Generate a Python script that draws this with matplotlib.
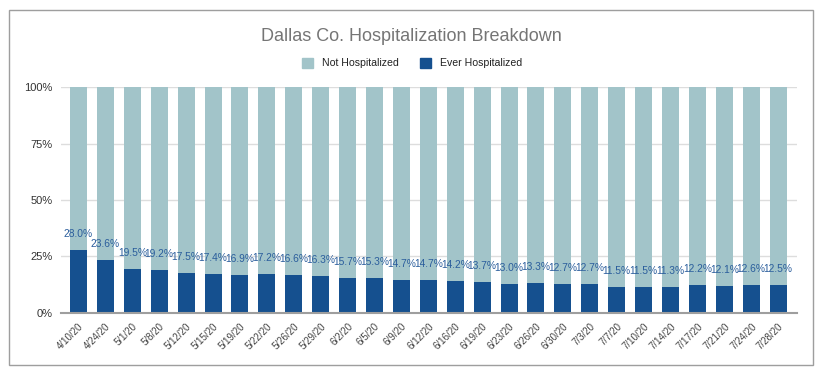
import numpy as np
import matplotlib
matplotlib.use('Agg')
import matplotlib.pyplot as plt
from matplotlib.patches import Rectangle, Patch

dates = ['4/10/20', '4/24/20', '5/1/20', '5/8/20', '5/12/20', '5/15/20', '5/19/20',
         '5/22/20', '5/26/20', '5/29/20', '6/2/20', '6/5/20', '6/9/20', '6/12/20',
         '6/16/20', '6/19/20', '6/23/20', '6/26/20', '6/30/20', '7/3/20', '7/7/20',
         '7/10/20', '7/14/20', '7/17/20', '7/21/20', '7/24/20', '7/28/20']
ever_hosp = [28.0, 23.6, 19.5, 19.2, 17.5, 17.4, 16.9, 17.2, 16.6, 16.3, 15.7, 15.3,
             14.7, 14.7, 14.2, 13.7, 13.0, 13.3, 12.7, 12.7, 11.5, 11.5, 11.3, 12.2,
             12.1, 12.6, 12.5]
not_hosp = [100 - v for v in ever_hosp]
yticks = [0, 25, 50, 75, 100]

light = '#a2c4c9'
dark = '#15508f'

plt.rcParams['font.family'] = ['Liberation Sans', 'DejaVu Sans']

fig = plt.figure(figsize=(8.22, 3.76), dpi=100)
ax = fig.add_axes([0.0742, 0.1676, 0.8954, 0.601])

x = np.arange(len(dates))
ax.bar(x, ever_hosp, width=0.63, color=dark, zorder=3)
ax.bar(x, not_hosp, width=0.63, bottom=ever_hosp, color=light, zorder=3)

# value labels sit a fixed distance above the dark segment
for xi, v in zip(x, ever_hosp):
    ax.annotate(f'{v:.1f}%', (xi, v), xytext=(0, 16), textcoords='offset pixels',
                ha='center', va='center', fontsize=7.4, color='#2a5d9c', zorder=4)

ax.set_xlim(-0.65, 26.7)
ax.set_ylim(0, 100)
ax.set_yticks(yticks)
ax.set_yticklabels([f'{t}%' for t in yticks], fontsize=8, color='#333333')
ax.set_xticks(x)
ax.set_xticklabels(dates, rotation=45, ha='right', rotation_mode='anchor',
                   fontsize=7, color='#444444')
ax.tick_params(axis='both', length=0)
ax.tick_params(axis='y', pad=6)
ax.tick_params(axis='x', pad=6)
ax.grid(axis='y', color='#dddddd', linewidth=1, zorder=0)
for s in ['top', 'right', 'left']:
    ax.spines[s].set_visible(False)
ax.spines['bottom'].set_color('#9e9e9e')
ax.spines['bottom'].set_linewidth(1.5)
ax.spines['bottom'].set_zorder(5)

fig.text(0.501, 0.902, 'Dallas Co. Hospitalization Breakdown', ha='center', va='center',
         fontsize=13, color='#757575')

handles = [Patch(color=light, label='Not Hospitalized'),
           Patch(color=dark, label='Ever Hospitalized')]
fig.legend(handles=handles, loc='center', bbox_to_anchor=(0.501, 0.832), ncol=2,
           frameon=False, fontsize=7.6, handlelength=1.1, handleheight=1.1,
           handletextpad=0.8, columnspacing=2.0, labelcolor='#222222')

fig.patches.append(Rectangle((9 / 822, 1 - 365 / 376), 804 / 822, 355 / 376,
                             transform=fig.transFigure, fill=False,
                             edgecolor='#9e9e9e', linewidth=1))

fig.savefig('out.png', dpi=100)
